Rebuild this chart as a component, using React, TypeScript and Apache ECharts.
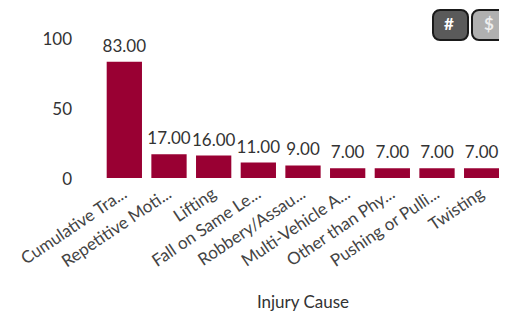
import React, { useEffect, useRef } from "react";
import * as echarts from "echarts";

const categories = [
  "Cumulative Tra...",
  "Repetitive Moti...",
  "Lifting",
  "Fall on Same Le...",
  "Robbery/Assau...",
  "Multi-Vehicle A...",
  "Other than Phy...",
  "Pushing or Pulli...",
  "Twisting",
];
const values = [83, 17, 16, 11, 9, 7, 7, 7, 7];
const yTicks = [0, 50, 100];
const xAxisTitle = "Injury Cause";

const FONT = "Lato, 'Open Sans', sans-serif";

export default function App() {
  const ref = useRef<HTMLDivElement>(null);
  useEffect(() => {
    if (!ref.current) return;
    const chart = echarts.init(ref.current, undefined, { renderer: "svg" });
    chart.setOption({
      animation: false,
      textStyle: { fontFamily: FONT },
      grid: { left: 102, right: 3, top: 38, bottom: 150 },
      xAxis: {
        type: "category",
        data: categories,
        name: xAxisTitle,
        nameLocation: "middle",
        nameGap: 115,
        nameTextStyle: { fontSize: 17, color: "#333", fontFamily: FONT },
        axisLine: { show: false },
        axisTick: { show: false },
        axisLabel: {
          rotate: 34,
          interval: 0,
          fontSize: 17,
          color: "#444",
          fontFamily: FONT,
          margin: 13,
        },
      },
      yAxis: {
        type: "value",
        min: yTicks[0],
        max: yTicks[yTicks.length - 1],
        interval: 50,
        splitLine: { show: false },
        axisLine: { show: false },
        axisTick: { show: false },
        axisLabel: { fontSize: 17, color: "#333", margin: 30, fontFamily: FONT },
      },
      series: [
        {
          type: "bar",
          data: values,
          barWidth: "79%",
          itemStyle: { color: "#990033" },
          label: {
            show: true,
            position: "top",
            distance: 8,
            fontSize: 17,
            color: "#333",
            fontFamily: FONT,
            formatter: (p: any) => Number(p.value).toFixed(2),
          },
        },
      ],
      graphic: [
        {
          type: "rect",
          left: 432,
          top: 9,
          shape: { width: 35, height: 30, r: 7 },
          style: { fill: "#5a5a5a", stroke: "#1a1a1a", lineWidth: 2 },
        },
        {
          type: "text",
          left: 444,
          top: 15,
          style: { text: "#", fill: "#fff", fontSize: 17, fontWeight: "bold", fontFamily: FONT },
        },
        {
          type: "rect",
          left: 471,
          top: 9,
          shape: { width: 38, height: 30, r: 7 },
          style: { fill: "#b0b0b0", stroke: "#1a1a1a", lineWidth: 2 },
        },
        {
          type: "text",
          left: 484,
          top: 15,
          style: { text: "$", fill: "#eee", fontSize: 17, fontWeight: "bold", fontFamily: FONT },
        },
      ],
    });
    return () => chart.dispose();
  }, []);
  return <div ref={ref} style={{ width: 507, height: 328, margin: -8 }} />;
}
